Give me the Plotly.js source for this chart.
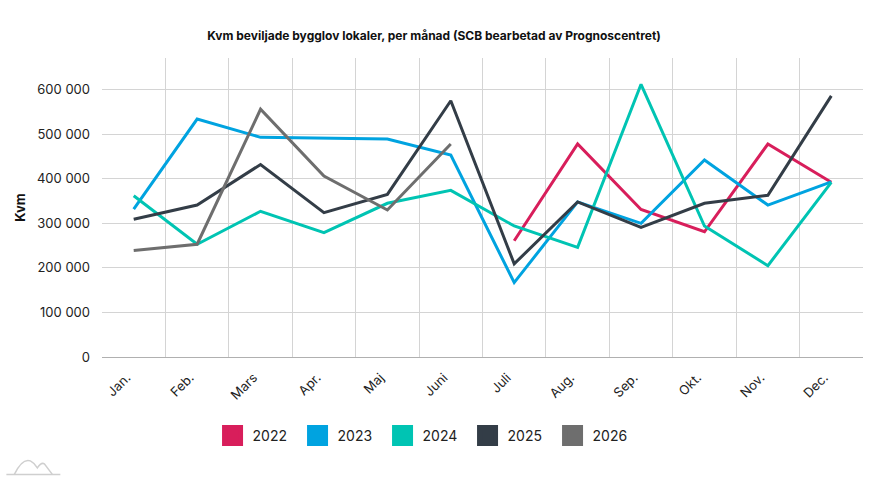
<!DOCTYPE html>
<html>
<head>
<meta charset="utf-8">
<script src="https://cdn.plot.ly/plotly-3.0.1.min.js"></script>
<style>html,body{margin:0;padding:0;background:#fff;}#chart{width:879px;height:481px;}</style>
</head>
<body>
<div id="chart"></div>
<script>
const months = ["Jan.","Feb.","Mars","Apr.","Maj","Juni","Juli","Aug.","Sep.","Okt.","Nov.","Dec."];
const years = ["2022","2023","2024","2025","2026"];
const v2022 = [null,null,null,null,null,null,261000,478000,331000,281000,478000,392000];
const v2023 = [332000,534000,493000,491000,489000,453000,167000,348000,300000,442000,341000,393000];
const v2024 = [362000,253000,327000,279000,345000,374000,294000,246000,612000,294000,205000,392000];
const v2025 = [309000,341000,432000,324000,365000,575000,209000,348000,291000,345000,363000,586000];
const v2026 = [239000,253000,556000,406000,330000,478000,null,null,null,null,null,null];
const colors = ["#d81e5b","#00a3e0","#00c4b3","#333d47","#6e6e6e"];
const series = [v2022,v2023,v2024,v2025,v2026];

const FONT = "Inter, 'Liberation Sans', Arial, sans-serif";
const traces = [];
series.forEach((vals,i)=>{
  traces.push({
    type:"scatter", mode:"lines", x:months, y:vals, name:years[i],
    line:{color:colors[i], width:3}, showlegend:false, connectgaps:false,
    hovertemplate:"%{x}: %{y}<extra>"+years[i]+"</extra>"
  });
});
years.forEach((yr,i)=>{
  traces.push({
    type:"scatter", mode:"markers", x:[null], y:[null], name:yr,
    marker:{symbol:"square", size:16, color:colors[i], line:{color:colors[i], width:5}},
    showlegend:true, hoverinfo:"skip"
  });
});

// plot area in pixels
const L=101.7, R=863.3, T=57.7, B=357;
function px(x){return (x-L)/(R-L);}
function py(y){return (B-y)/(B-T);}

const layout = {
  width:879, height:481,
  margin:{l:L, r:879-R, t:T, b:481-B, pad:0},
  paper_bgcolor:"#fff", plot_bgcolor:"#fff",
  separators:", ",
  font:{family:FONT, size:13, color:"#222"},
  title:{text:"<b>Kvm beviljade bygglov lokaler, per månad (SCB bearbetad av Prognoscentret)</b>",
    font:{family:FONT, size:12, color:"#111"}, x:434/879, xanchor:"center", y:1-36/481, yanchor:"middle"},
  xaxis:{
    type:"category", categoryorder:"array", categoryarray:months,
    range:[-0.5,11.5], tickson:"boundaries", ticks:"", showgrid:true,
    gridcolor:"#d4d4d4", gridwidth:1, showline:true, linecolor:"#b0b0b0", linewidth:1,
    tickangle:-45, tickfont:{family:FONT, size:13, color:"#222"}, zeroline:false, fixedrange:true,
    ticklabelshift:-7, ticklabelstandoff:7
  },
  yaxis:{
    range:[0,671000], dtick:100000, tick0:0, tickformat:",d",
    gridcolor:"#d4d4d4", gridwidth:1, zeroline:false, showline:false, ticks:"",
    tickfont:{family:FONT, size:13, color:"#222"}, ticklabelstandoff:11,
    title:{text:"<b>Kvm</b>", font:{family:FONT, size:13, color:"#111"}, standoff:8},
    fixedrange:true
  },
  legend:{orientation:"h", x:px(425), xanchor:"center", y:py(436), yanchor:"middle",
    font:{family:FONT, size:14, color:"#222"}, itemwidth:30, entrywidth:40, entrywidthmode:"pixels",
    itemclick:false, itemdoubleclick:false},
  shapes:[
    {type:"line", xref:"paper", yref:"paper", x0:px(6), x1:px(60), y0:py(474.5), y1:py(474.5),
     line:{color:"#cfcfcf", width:1.5}},
    {type:"path", xref:"paper", yref:"paper",
     path:"M "+px(14)+","+py(474.5)+" Q "+px(22)+","+py(458)+" "+px(30)+","+py(461)+" Q "+px(34)+","+py(463)+" "+px(37)+","+py(468)+" Q "+px(41)+","+py(462)+" "+px(44)+","+py(464)+" L "+px(52)+","+py(474.5),
     line:{color:"#cfcfcf", width:1.5}}
  ],
  showlegend:true
};
Plotly.newPlot("chart", traces, layout, {displayModeBar:false});
</script>
</body>
</html>
